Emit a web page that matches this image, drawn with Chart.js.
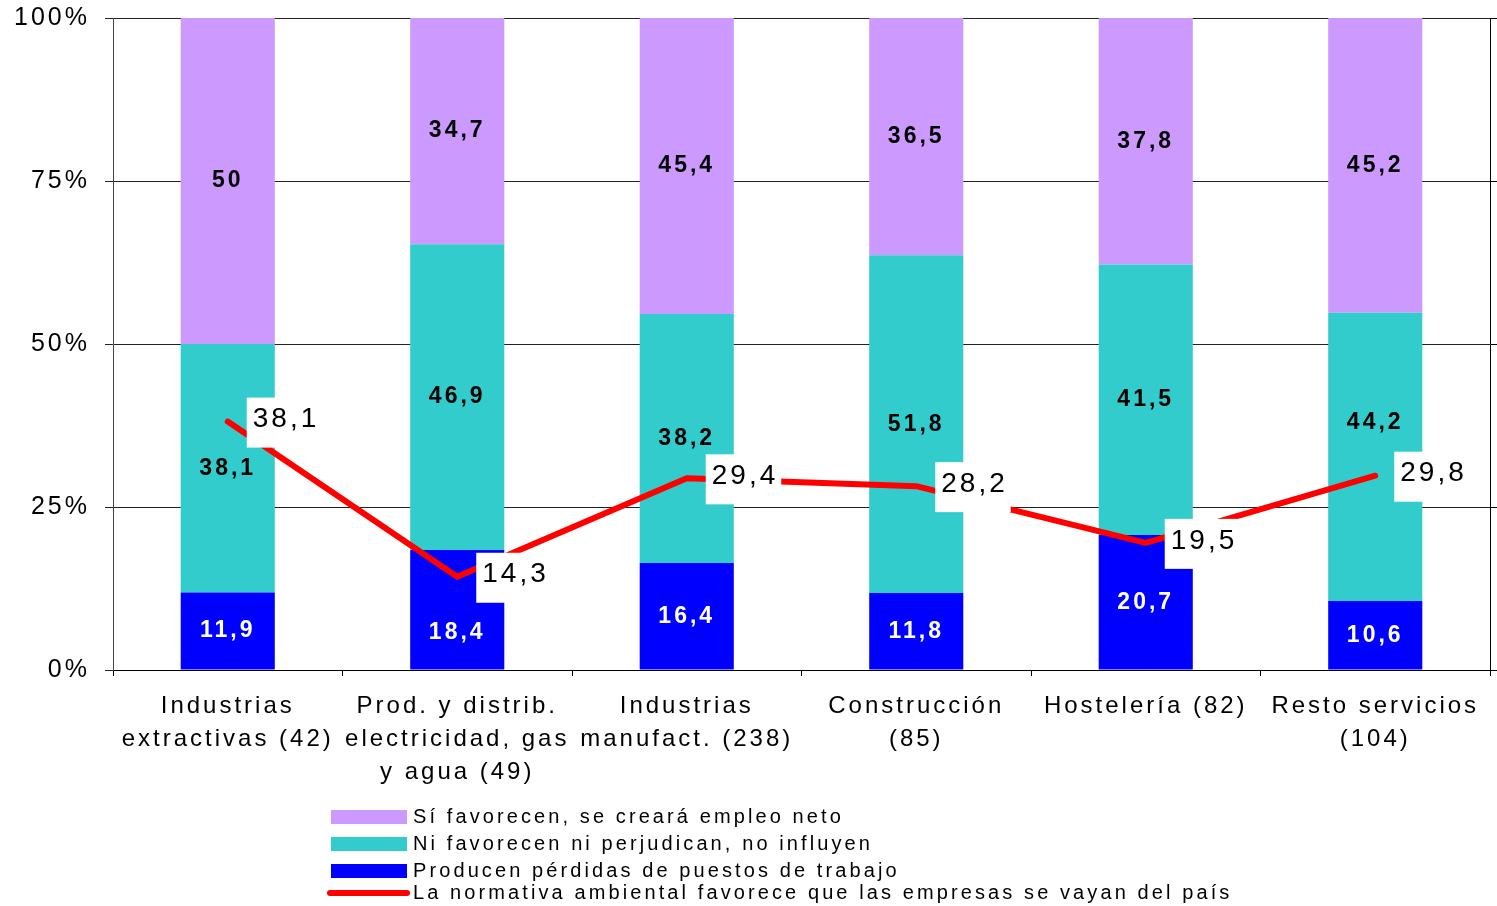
<!DOCTYPE html>
<html lang="es">
<head>
<meta charset="utf-8">
<title>Normativa ambiental y empleo por sector</title>
<script src="https://cdn.jsdelivr.net/npm/chart.js@4.4.1/dist/chart.umd.min.js"></script>
<style>
  html, body { margin: 0; padding: 0; background: #fff; }
  .wrap { position: relative; width: 1497px; height: 906px; }
  #chart { position: absolute; left: 0; top: 0; }
  .legend {
    position: absolute; left: 327px; top: 803px;
    font-family: "Liberation Sans", Arial, sans-serif; font-size: 20px; color: #000;
    letter-spacing: 3.1px;
  }
  .legend-item { display: flex; align-items: center; height: 27px; white-space: nowrap; }
  .legend-item.is-line { margin-top: -5px; }
  .legend-swatch { width: 76px; height: 14px; margin-left: 4px; margin-right: 6px; }
  .legend-line { width: 83px; height: 6px; border-radius: 3px; margin-right: 3px; }
</style>
</head>
<body>
<div class="wrap">
  <canvas id="chart" width="1497" height="906"></canvas>
  <div class="legend" id="legend"></div>
</div>
<script>
// DATA
const categories = [
  ["Industrias", "extractivas (42)"],
  ["Prod. y distrib.", "electricidad, gas", "y agua (49)"],
  ["Industrias", "manufact. (238)"],
  ["Construcción", "(85)"],
  ["Hostelería (82)"],
  ["Resto servicios", "(104)"],
];
const favorecen = [50, 34.7, 45.4, 36.5, 37.8, 45.2];
const noInfluyen = [38.1, 46.9, 38.2, 51.8, 41.5, 44.2];
const perdidas = [11.9, 18.4, 16.4, 11.8, 20.7, 10.6];
const seVayan = [38.1, 14.3, 29.4, 28.2, 19.5, 29.8];
const yTickValues = [0, 25, 50, 75, 100];
const yTickLabels = ["0%", "25%", "50%", "75%", "100%"];

const FONT = '"Liberation Sans", Arial, sans-serif';
const fmt = (v) => String(v).replace(".", ",");

// letter spacing like the original export
const spacing = {
  id: "spacing",
  beforeLayout(chart) { chart.ctx.letterSpacing = "3px"; },
  beforeDraw(chart) { chart.ctx.letterSpacing = "3px"; },
};

const valueLabels = {
  id: "valueLabels",
  afterDatasetsDraw(chart) {
    const ctx = chart.ctx;
    ctx.save();

    // boxes of the line labels first, so bar labels can dodge them
    const boxes = [];
    chart.data.datasets.forEach((ds, i) => {
      if (ds.type !== "line") return;
      const meta = chart.getDatasetMeta(i);
      ctx.font = `28px ${FONT}`;
      ctx.letterSpacing = "3px";
      meta.data.forEach((pt, j) => {
        const txt = fmt(ds.data[j]);
        const w = ctx.measureText(txt).width;
        boxes.push({ txt, x: pt.x, y: pt.y, left: pt.x + 19, top: pt.y - 24, w: w + 9, h: 50 });
      });
    });

    chart.data.datasets.forEach((ds, i) => {
      const meta = chart.getDatasetMeta(i);
      if (ds.type !== "bar") return;
      ctx.font = `bold 23px ${FONT}`;
      ctx.letterSpacing = "3px";
      ctx.textAlign = "center";
      ctx.textBaseline = "middle";
      ctx.fillStyle = ds.labelColor;
      meta.data.forEach((bar, j) => {
        const p = bar.getProps(["x", "y", "base"], true);
        const txt = fmt(ds.data[j]);
        const w = ctx.measureText(txt).width;
        let cy = (p.y + p.base) / 2;
        boxes.forEach((b) => {
          const hit = p.x + w / 2 > b.left && p.x - w / 2 < b.left + b.w &&
            cy + 10 > b.top && cy - 10 < b.top + b.h;
          if (hit) cy = cy < b.top + b.h / 2 ? b.top - 29 : b.top + b.h + 30;
        });
        ctx.fillText(txt, p.x, cy);
      });
    });

    // line labels in white boxes
    ctx.font = `28px ${FONT}`;
    ctx.letterSpacing = "3px";
    ctx.textAlign = "left";
    ctx.textBaseline = "middle";
    boxes.forEach((b) => {
      ctx.fillStyle = "#fff";
      ctx.fillRect(b.left, b.top, b.w, b.h);
      ctx.fillStyle = "#000";
      ctx.fillText(b.txt, b.x + 25, b.y - 2);
    });
    ctx.restore();
  },
};

const datasets = [
  {
    type: "line",
    label: "La normativa ambiental favorece que las empresas se vayan del país",
    data: seVayan,
    borderColor: "#FF0000",
    backgroundColor: "#FF0000",
    borderWidth: 6,
    borderCapStyle: "round",
    borderJoinStyle: "round",
    pointRadius: 0,
    tension: 0,
    stack: "line",
    order: 0,
  },
  {
    type: "bar",
    label: "Producen pérdidas de puestos de trabajo",
    data: perdidas,
    backgroundColor: "#0000FF",
    labelColor: "#fff",
    stack: "bars",
    order: 1,
  },
  {
    type: "bar",
    label: "Ni favorecen ni perjudican, no influyen",
    data: noInfluyen,
    backgroundColor: "#33CCCC",
    labelColor: "#000",
    stack: "bars",
    order: 1,
  },
  {
    type: "bar",
    label: "Sí favorecen, se creará empleo neto",
    data: favorecen,
    backgroundColor: "#CC99FF",
    labelColor: "#000",
    stack: "bars",
    order: 1,
  },
];

const ctx = document.getElementById("chart").getContext("2d");
const chart = new Chart(ctx, {
  data: { labels: categories, datasets },
  options: {
    responsive: false,
    animation: false,
    events: [],
    datasets: { bar: { barPercentage: 0.41, categoryPercentage: 1 } },
    layout: { padding: { top: 18, left: 0, right: 0, bottom: 0 } },
    plugins: {
      legend: { display: false },
      tooltip: { enabled: false },
    },
    scales: {
      x: {
        stacked: true,
        grid: { offset: true, drawOnChartArea: false, drawTicks: true, tickLength: 6, color: "#000" },
        border: { color: "#000" },
        ticks: {
          color: "#000",
          font: { family: FONT, size: 24, lineHeight: 1.375 },
          maxRotation: 0,
          minRotation: 0,
          autoSkip: false,
          padding: 14,
        },
        afterFit(scale) { scale.height = 236; },
      },
      y: {
        stacked: true,
        min: 0,
        max: 100,
        afterBuildTicks(scale) { scale.ticks = yTickValues.map((v) => ({ value: v })); },
        ticks: {
          color: "#000",
          font: { family: FONT, size: 25 },
          padding: 15,
          callback: (v) => yTickLabels[yTickValues.indexOf(v)],
        },
        grid: { color: "#222", tickLength: 8 },
        border: { color: "#444" },
        afterFit(scale) {
          scale.width = 113;
          scale.paddingTop = 0;
          scale.paddingBottom = 0;
        },
      },
      y2: {
        position: "right",
        min: 0,
        max: 100,
        afterBuildTicks(scale) { scale.ticks = yTickValues.map((v) => ({ value: v })); },
        ticks: { display: false },
        grid: { drawOnChartArea: false, color: "#000", tickLength: 7 },
        border: { color: "#000" },
        afterFit(scale) {
          scale.width = 7;
          scale.paddingTop = 0;
          scale.paddingBottom = 0;
        },
      },
    },
  },
  plugins: [spacing, valueLabels],
});

// LEGEND (Excel order: top segment first)
function buildLegend() {
  const legend = document.getElementById("legend");
  const items = [datasets[3], datasets[2], datasets[1], datasets[0]];
  items.forEach((ds) => {
    const item = document.createElement("div");
    item.className = ds.type === "line" ? "legend-item is-line" : "legend-item";
    const sw = document.createElement("span");
    sw.className = ds.type === "line" ? "legend-line" : "legend-swatch";
    sw.style.background = ds.backgroundColor;
    const label = document.createElement("span");
    label.textContent = ds.label;
    item.appendChild(sw);
    item.appendChild(label);
    legend.appendChild(item);
  });
}
buildLegend();
</script>
</body>
</html>
